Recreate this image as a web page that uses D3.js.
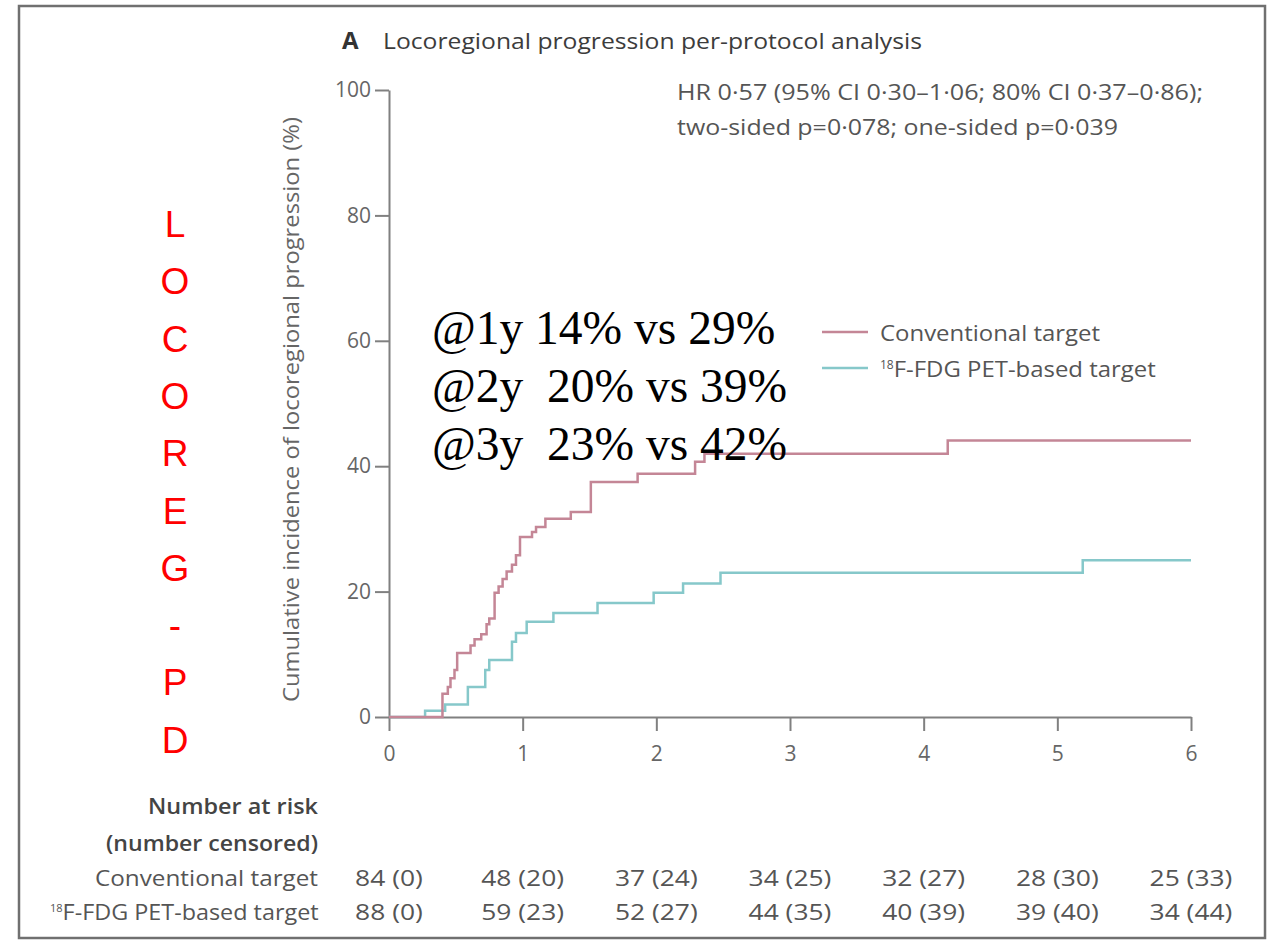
<!DOCTYPE html>
<html>
<head>
<meta charset="utf-8">
<script src="https://cdn.jsdelivr.net/npm/d3@7"></script>
<style>
  body { margin: 0; background: #fff; }
  svg text { font-family: "Open Sans", "Noto Sans", sans-serif; }
</style>
</head>
<body>
<div id="d3"></div>
<script>
// step times (years) and cumulative incidence (%)
const convTime = [0, 0.40, 0.44, 0.46, 0.49, 0.51, 0.61, 0.64, 0.69, 0.73, 0.75, 0.79, 0.82, 0.85, 0.88, 0.92, 0.95, 0.98, 1.07, 1.10, 1.17, 1.36, 1.51, 1.86, 2.29, 2.36, 4.18, 6];
const convPct = [0, 3.7, 4.8, 6.2, 7.5, 10.2, 11.4, 12.4, 13.2, 14.8, 15.7, 19.8, 20.8, 22.0, 23.2, 24.3, 25.8, 28.7, 29.5, 30.3, 31.6, 32.7, 37.5, 38.8, 40.7, 42.0, 44.1, 44.1];
const petTime = [0, 0.27, 0.42, 0.59, 0.72, 0.75, 0.92, 0.95, 1.03, 1.23, 1.56, 1.98, 2.20, 2.48, 5.19, 6];
const petPct = [0, 1.0, 2.0, 4.8, 7.5, 9.1, 12.0, 13.4, 15.2, 16.6, 18.2, 19.8, 21.3, 23.0, 25.0, 25.0];

const xTicks = [0, 1, 2, 3, 4, 5, 6];
const yTicks = [0, 20, 40, 60, 80, 100];

const riskGroups = ["Conventional target", "18F-FDG PET-based target"];
const convAtRisk = ["84 (0)", "48 (20)", "37 (24)", "34 (25)", "32 (27)", "28 (30)", "25 (33)"];
const petAtRisk = ["88 (0)", "59 (23)", "52 (27)", "44 (35)", "40 (39)", "39 (40)", "34 (44)"];

const notes = ["@1y 14% vs 29%", "@2y  20% vs 39%", "@3y  23% vs 42%"];
const sideLetters = ["L", "O", "C", "O", "R", "E", "G", "-", "P", "D"];

const width = 1268, height = 942;
const convColor = "#c48696", petColor = "#86c8ca", ink = "#555";

// the original face is wider than Open Sans: stretch text to the measured width
function fit(sel, w) {
  return sel.attr("textLength", w).attr("lengthAdjust", "spacingAndGlyphs");
}

const svg = d3.select("#d3").append("svg")
    .attr("width", width)
    .attr("height", height);

svg.append("rect")
    .attr("x", 19).attr("y", 6)
    .attr("width", 1246).attr("height", 932)
    .attr("fill", "none")
    .attr("stroke", "#707070")
    .attr("stroke-width", 2.5);

const x = d3.scaleLinear().domain([0, 6]).range([389, 1191]);
const y = d3.scaleLinear().domain([0, 100]).range([717, 90]);

// axes
const yAxis = svg.append("g")
    .attr("transform", `translate(${x(0)},0)`)
    .call(d3.axisLeft(y).tickValues(yTicks).tickSize(14).tickSizeOuter(0).tickPadding(4));
const xAxis = svg.append("g")
    .attr("transform", `translate(0,${y(0)})`)
    .call(d3.axisBottom(x).tickValues(xTicks).tickFormat(d3.format("d"))
      .tickSize(14).tickSizeOuter(0).tickPadding(15));

[yAxis, xAxis].forEach(g => {
  g.selectAll("path, line").attr("stroke", "#808080").attr("stroke-width", 2);
  g.selectAll("text").attr("fill", "#666").style("font-size", "21px");
});

fit(svg.append("text")
    .attr("transform", `translate(299,${(y(0) + y(100)) / 2 + 6}) rotate(-90)`)
    .attr("text-anchor", "middle")
    .attr("fill", "#666")
    .style("font-size", "22px")
    .text("Cumulative incidence of locoregional progression (%)"), 585);

// curves
const line = d3.line()
    .x(d => x(d[0]))
    .y(d => y(d[1]))
    .curve(d3.curveStepAfter);

svg.append("path")
    .datum(d3.zip(petTime, petPct))
    .attr("fill", "none")
    .attr("stroke", petColor)
    .attr("stroke-width", 2.5)
    .attr("d", line);

svg.append("path")
    .datum(d3.zip(convTime, convPct))
    .attr("fill", "none")
    .attr("stroke", convColor)
    .attr("stroke-width", 2.5)
    .attr("d", line);

// title
svg.append("text")
    .attr("x", 342).attr("y", 49)
    .attr("fill", "#333")
    .style("font-size", "24px")
    .style("font-weight", "bold")
    .text("A");
fit(svg.append("text")
    .attr("x", 383).attr("y", 49)
    .attr("fill", "#3c3c3c")
    .style("font-size", "22px")
    .text("Locoregional progression per-protocol analysis"), 539);

// HR text
fit(svg.append("text")
    .attr("x", 677).attr("y", 100)
    .attr("fill", ink)
    .style("font-size", "21px")
    .text("HR 0·57 (95% CI 0·30–1·06; 80% CI 0·37–0·86);"), 526);
fit(svg.append("text")
    .attr("x", 677).attr("y", 135)
    .attr("fill", ink)
    .style("font-size", "21px")
    .text("two-sided p=0·078; one-sided p=0·039"), 441);

// legend
const legend = svg.append("g");
[convColor, petColor].forEach((c, i) => {
  legend.append("line")
      .attr("x1", 822).attr("x2", 868)
      .attr("y1", 332 + i * 36).attr("y2", 332 + i * 36)
      .attr("stroke", c).attr("stroke-width", 2.5);
});
fit(legend.append("text")
    .attr("x", 880).attr("y", 341)
    .attr("fill", ink)
    .style("font-size", "22px")
    .text("Conventional target"), 220);
const petLabel = legend.append("text")
    .attr("x", 880).attr("y", 377)
    .attr("fill", ink)
    .style("font-size", "22px");
petLabel.append("tspan").attr("dy", -8).style("font-size", "12px").text("18");
fit(petLabel.append("tspan").attr("dy", 8).text("F-FDG PET-based target"), 262);

// number at risk table
fit(svg.append("text")
    .attr("x", 318).attr("y", 814)
    .attr("text-anchor", "end")
    .attr("fill", "#444")
    .style("font-size", "21px")
    .style("font-weight", 600)
    .text("Number at risk"), 170);
fit(svg.append("text")
    .attr("x", 318).attr("y", 851)
    .attr("text-anchor", "end")
    .attr("fill", "#444")
    .style("font-size", "21px")
    .style("font-weight", 600)
    .text("(number censored)"), 212);

[convAtRisk, petAtRisk].forEach((row, r) => {
  const yy = 886 + r * 34;
  const lab = svg.append("text")
      .attr("y", yy)
      .attr("fill", ink)
      .style("font-size", "21px");
  if (r === 1) {
    lab.attr("x", 50);
    lab.append("tspan").attr("dy", -8).style("font-size", "11px").text("18");
    fit(lab.append("tspan").attr("dy", 8).text(riskGroups[r].slice(2)), 256);
  } else {
    fit(lab.attr("x", 95).text(riskGroups[r]), 223);
  }
  svg.append("g").selectAll("text")
    .data(row)
    .join("text")
      .attr("x", (d, i) => x(xTicks[i]))
      .attr("y", yy)
      .attr("text-anchor", "middle")
      .attr("fill", ink)
      .style("font-size", "22px")
      .text(d => d)
      .each(function() { fit(d3.select(this), this.getComputedTextLength() * 1.2); });
});

// overlay notes
svg.append("g").selectAll("text")
  .data(notes)
  .join("text")
    .attr("x", 432)
    .attr("y", (d, i) => 344 + i * 58)
    .attr("fill", "#000")
    .style("font-family", "'Liberation Serif', 'Times New Roman', serif")
    .style("font-size", "47.5px")
    .style("white-space", "pre")
    .attr("xml:space", "preserve")
    .text(d => d);

svg.append("g").selectAll("text")
  .data(sideLetters)
  .join("text")
    .attr("x", 175)
    .attr("y", (d, i) => 237 + i * 57.3)
    .attr("text-anchor", "middle")
    .attr("fill", "#ff0000")
    .style("font-family", "'Liberation Sans', Arial, sans-serif")
    .style("font-size", "37px")
    .text(d => d);
</script>
</body>
</html>
